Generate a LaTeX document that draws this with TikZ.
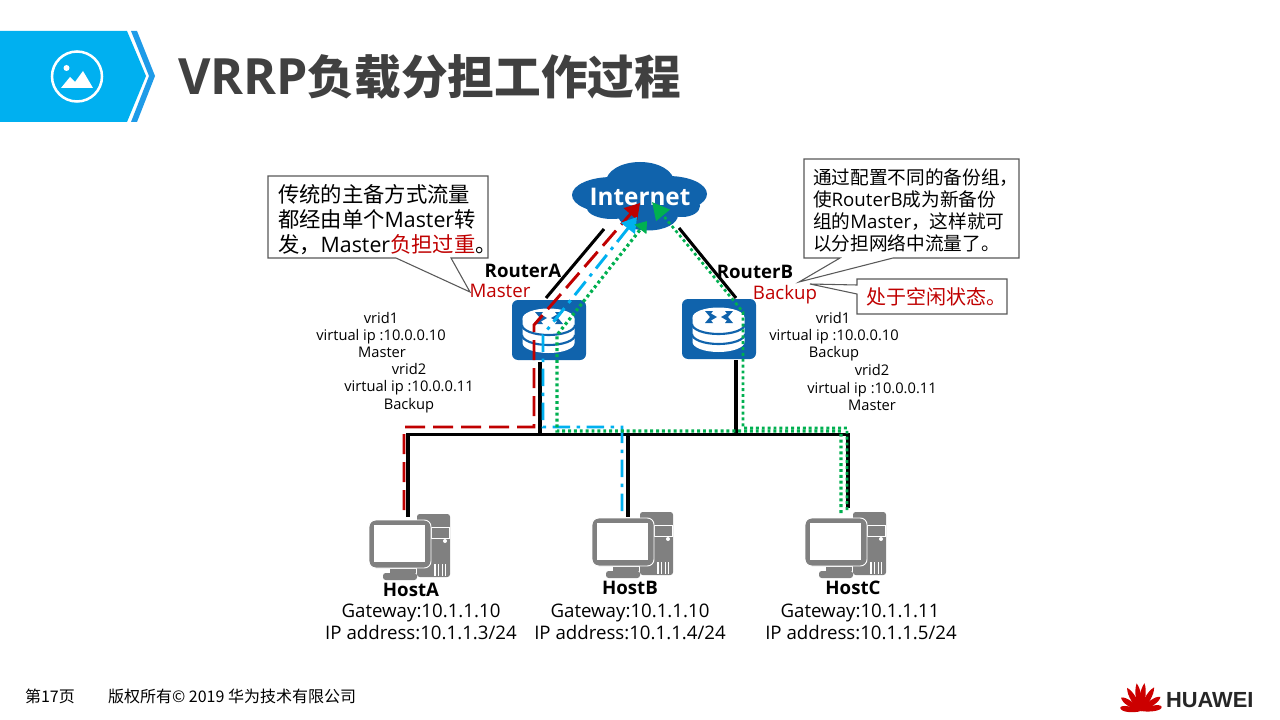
\documentclass[tikz,border=0pt]{standalone}
\usepackage{fontspec}
\usetikzlibrary{arrows.meta}
\setmainfont{Open Sans}
\newfontfamily\cjk{Noto Sans CJK SC}
\newfontfamily\hwfont{Liberation Sans}
\definecolor{hwblue}{HTML}{00B0F0}
\definecolor{hwstrip}{HTML}{1E9BE8}
\definecolor{netblue}{HTML}{1063AC}
\definecolor{hostgray}{HTML}{808080}
\definecolor{redpath}{HTML}{C00000}
\definecolor{bluepath}{HTML}{00B0F0}
\definecolor{greenpath}{HTML}{00B050}
\definecolor{titlegray}{HTML}{404040}
\newcommand{\fs}[2]{\fontsize{#1}{#2}\selectfont}
\newcommand{\lat}[1]{{\normalfont #1}}
\tikzset{
  txt/.style={inner sep=0pt,outer sep=0pt,align=center},
  small/.style={txt,font=\fs{11}{13},text height=10pt,text depth=2.5pt},
  hostinfo/.style={txt,font=\fs{14}{16},text height=12.5pt,text depth=3pt},
  boldlabel/.style={txt,font=\fs{14}{16}\bfseries},
  statelabel/.style={txt,font=\fs{14}{16},text=redpath,text height=10.5pt,text depth=1pt},
  callout/.style={draw=black!65,line width=0.8pt,fill=white,line join=miter},
  wire/.style={line width=2.3pt,black},
  redflow/.style={draw=redpath,line width=2.2pt,dash pattern=on 15pt off 6pt},
  blueflow/.style={draw=bluepath,line width=2.2pt,dash pattern=on 13pt off 5pt on 2.5pt off 5pt},
  greenflow/.style={draw=greenpath,line width=2.4pt,dash pattern=on 2.2pt off 2.2pt},
  thingreen/.style={draw=greenpath,line width=2pt,dash pattern=on 2.2pt off 2.2pt},
  flowtip/.style={-{Triangle[length=11pt,width=13pt]}},
  smalltip/.style={-{Triangle[length=8pt,width=11pt]}},
  routerpic/.pic={
    \fill[netblue,rounded corners=4.5pt] (0,0) rectangle (74,60);
    \fill[white] (10.5,18.5) -- (10.5,43) arc[start angle=180,end angle=0,x radius=26,y radius=10] -- (62.5,18.5) -- cycle;
    \fill[white] (36.5,18.5) ellipse[x radius=26,y radius=10];
    \draw[netblue,line width=1.6pt] (10,25) arc[start angle=180,end angle=0,x radius=26.5,y radius=10];
    \draw[netblue,line width=1.6pt] (10,35) arc[start angle=180,end angle=0,x radius=26.5,y radius=10];
    \fill[netblue] (23,12) -- (31,12) -- (29,14.5) -- (35,18) -- (29,21.5) -- (31,24) -- (23,24) -- (25.5,21) -- (28,18) -- (25.5,15) -- cycle;
    \fill[netblue] (51,12) -- (43,12) -- (45,14.5) -- (39,18) -- (45,21.5) -- (43,24) -- (51,24) -- (48.5,21) -- (46,18) -- (48.5,15) -- cycle;
  },
  hostpic/.pic={
    \fill[hostgray,rounded corners=2pt] (48,0) rectangle (81,63);
    \draw[white,line width=0.7pt] (62,13) rectangle (80,24);
    \fill[white] (76,27) circle[radius=2];
    \foreach \i in {0,1,2,3}{\draw[white,line width=0.8pt] (66+\i*3.6,50) -- (66+\i*3.6,62);}
    \fill[hostgray,draw=white,line width=0.7pt,rounded corners=5pt] (0,6) rectangle (62,54);
    \fill[white] (5,11) rectangle (56,48);
    \fill[hostgray] (21,55) rectangle (47,59);
    \fill[hostgray,rounded corners=2pt] (14,59) rectangle (48,66);
  },
  petal/.pic={
    \fill[red!80!black] (0,0) .. controls (-4,-8) and (-4.5,-20) .. (-0.5,-\petallen) .. controls (3.5,-21) and (3,-8) .. (0,0) -- cycle;
  },
}
\begin{document}
\begin{tikzpicture}[x=0.75pt,y=-0.75pt]
\useasboundingbox (0,0) rectangle (1280,720);
\fill[white] (0,0) rectangle (1280,720);
% header
\fill[hwblue] (0,31) -- (127,31) -- (146,76) -- (127,122) -- (0,122) -- cycle;
\fill[hwstrip] (131,31) -- (137,31) -- (155,76) -- (137,122) -- (131,122) -- (149,76) -- cycle;
\draw[white,line width=1.9pt] (77,76.5) circle[radius=25];
\fill[white] (66.5,68) circle[radius=3];
\fill[white] (61,88) -- (70,77) -- (75,82) -- (83,71) -- (93,88) -- cycle;
\node[txt,anchor=west,text=titlegray,font=\fs{37.5}{42}\bfseries] (title) at (178,77) {VRRP{\fs{35}{42}\cjk 负载分担工作过程}};
% cloud
\fill[netblue] (612,195) ellipse[x radius=40,y radius=18];
\fill[netblue] (668,194) ellipse[x radius=39,y radius=18];
\fill[netblue] (640,182) ellipse[x radius=34,y radius=20];
\fill[netblue] (648,215) ellipse[x radius=30,y radius=15.5];
\fill[netblue] (612,208) ellipse[x radius=25,y radius=11];
\fill[netblue] (682,206) ellipse[x radius=18,y radius=11];
\fill[netblue] (640,200) ellipse[x radius=40,y radius=15];
\node[txt,text=white,font=\fs{18.2}{22}\bfseries] (internet) at (640,197) {Internet};
% routers and hosts
\pic at (512,300) {routerpic};
\pic at (682,299) {routerpic};
\pic at (369,514) {hostpic};
\pic at (592,512) {hostpic};
\pic at (805,512) {hostpic};
% anchors for the wires
\coordinate (cloudA) at (604,229);
\coordinate (rtrAup) at (546,298);
\coordinate (cloudB) at (679,228);
\coordinate (rtrBup) at (736,298);
\coordinate (rtrAdn) at (540,362);
\coordinate (rtrBdn) at (736,360);
\coordinate (busA) at (540,434.5);
\coordinate (busB) at (736,434.5);
\coordinate (busL) at (408,434.5);
\coordinate (busM) at (628,434.5);
\coordinate (busR) at (848,434.5);
\coordinate (hostAup) at (408,517);
\coordinate (hostBup) at (628,517);
\coordinate (hostCup) at (848,508);
\draw[wire] (cloudA) -- (rtrAup);
\draw[wire] (cloudB) -- (rtrBup);
\draw[wire] (rtrAdn) -- (busA);
\draw[wire] (rtrBdn) -- (busB);
\draw[wire,line cap=rect] (busL) -- (busR);
\draw[wire] (busL) -- (hostAup);
\draw[wire] (busM) -- (hostBup);
\draw[wire] (busR) -- (hostCup);
% traffic flows
\coordinate (r0) at (404,510); \coordinate (r1) at (404,427); \coordinate (r2) at (534,427);
\coordinate (r3) at (534,325); \coordinate (r4) at (640,203);
\draw[redflow,flowtip] (r0) -- (r1) -- (r2) -- (r3) -- (r4);
\coordinate (b0) at (622,511); \coordinate (b1) at (622,427); \coordinate (b2) at (543,427);
\coordinate (b3) at (543,335); \coordinate (b4) at (637,217);
\draw[blueflow,flowtip] (b0) -- (b1) -- (b2) -- (b3) -- (b4);
\coordinate (g0) at (841,513); \coordinate (g1) at (841,431); \coordinate (g2) at (557,431);
\coordinate (g3) at (557,335); \coordinate (g4) at (647,221);
\draw[greenflow,smalltip] (g0) -- (g1) -- (g2) -- (g3) -- (g4);
\coordinate (h0) at (847,510); \coordinate (h1) at (847,428); \coordinate (h2) at (743,428);
\coordinate (h3) at (743,312); \coordinate (h4) at (652,202);
\draw[thingreen,-{Triangle[length=13pt,width=13pt]}] (h0) -- (h1) -- (h2) -- (h3) -- (h4);
% callouts
\draw[callout] (268,176) -- (488,176) -- (488,258) -- (451,258) -- (470,292) -- (396,258) -- (268,258) -- cycle;
\node[txt,anchor=north west,align=left,font=\fs{16}{18.75}\cjk] (noteA) at (278,184) {传统的主备方式流量\\都经由单个\lat{Master}转\\发，\lat{Master}\textcolor{redpath}{负担过重}。};
\draw[callout] (804,159) -- (1019,159) -- (1019,258) -- (893,258) -- (799,282) -- (840,258) -- (804,258) -- cycle;
\node[txt,anchor=north west,align=left,font=\fs{14}{16.5}\cjk] (noteB) at (813,169) {通过配置不同的备份组，\\使\lat{RouterB}成为新备份\\组的\lat{Master}，这样就可\\以分担网络中流量了。};
\draw[callout] (857,279) -- (1007,279) -- (1007,314) -- (857,314) -- (857,294) -- (810,284) -- (857,285) -- cycle;
\node[txt,anchor=west,text=redpath,font=\fs{15}{18}\cjk] (noteC) at (866,297) {处于空闲状态。};
% labels
\node[boldlabel] (routerA) at (523,271) {RouterA};
\node[statelabel] (masterA) at (500,291) {Master};
\node[boldlabel] (routerB) at (755,272) {RouterB};
\node[statelabel] (backupB) at (785,293) {Backup};
\node[small] (a1) at (381,318) {vrid1};
\node[small] (a2) at (381,335) {virtual ip :10.0.0.10};
\node[small] (a3) at (382,352) {Master};
\node[small] (a4) at (409,369) {vrid2};
\node[small] (a5) at (409,386) {virtual ip :10.0.0.11};
\node[small] (a6) at (409,404) {Backup};
\node[small] (b1t) at (833,318) {vrid1};
\node[small] (b2t) at (834,335) {virtual ip :10.0.0.10};
\node[small] (b3t) at (834,352) {Backup};
\node[small] (b4t) at (872,370) {vrid2};
\node[small] (b5t) at (872,388) {virtual ip :10.0.0.11};
\node[small] (b6t) at (872,405) {Master};
\node[boldlabel] (hostA) at (411,590) {HostA};
\node[hostinfo] (gwA) at (421,611) {Gateway:10.1.1.10};
\node[hostinfo] (ipA) at (421,633) {IP address:10.1.1.3/24};
\node[boldlabel] (hostB) at (630,588) {HostB};
\node[hostinfo] (gwB) at (630,611) {Gateway:10.1.1.10};
\node[hostinfo] (ipB) at (630,633) {IP address:10.1.1.4/24};
\node[boldlabel] (hostC) at (853,588) {HostC};
\node[hostinfo] (gwC) at (860,611) {Gateway:10.1.1.11};
\node[hostinfo] (ipC) at (861,633) {IP address:10.1.1.5/24};
% footer
\node[txt,anchor=west,font=\fs{12}{14}\cjk] (page) at (25,696) {第17页};
\node[txt,anchor=west,font=\fs{12}{14}\cjk] (copy) at (108,696) {版权所有© 2019 华为技术有限公司};
% logo
\foreach \a/\l in {-80/21,-55/24,-30/27,-8/28,8/28,30/27,55/24,80/21}{
  \def\petallen{\l}
  \pic[rotate=\a] at (1141,711) {petal};
}
\node[txt,anchor=west,text=black!85,font=\fs{16.4}{18}\hwfont\bfseries] (brand) at (1166,700) {HUAWEI};
\end{tikzpicture}
\end{document}
